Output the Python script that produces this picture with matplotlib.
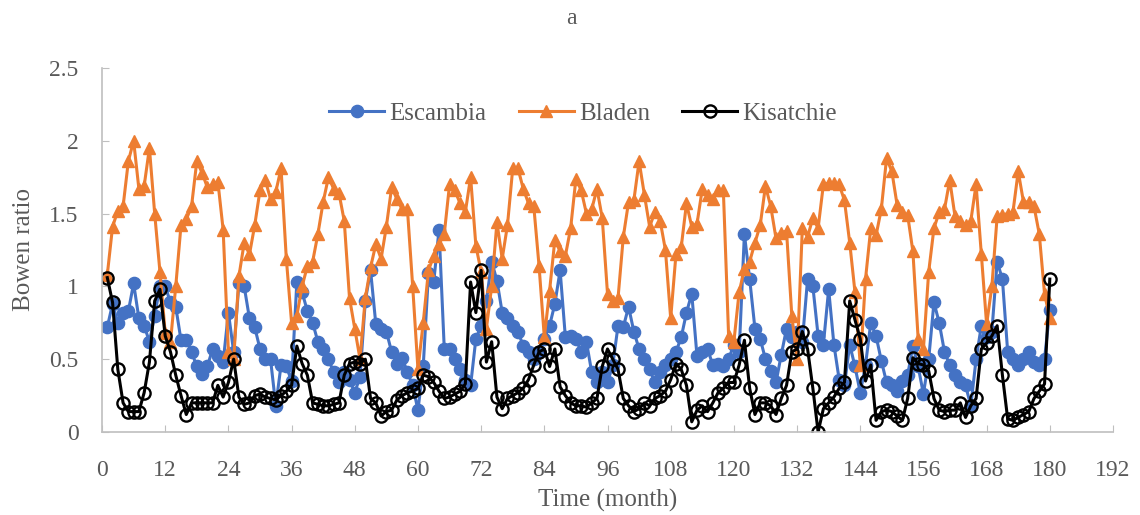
import numpy as np
import matplotlib
matplotlib.use("Agg")
import matplotlib.pyplot as plt

# monthly Bowen ratio, one row per year (months 1..180)
escambia = [
    0.72, 0.88, 0.75, 0.82, 0.83, 1.02, 0.78, 0.73, 0.62, 0.80, 1.00, 1.00,
    0.89, 0.86, 0.63, 0.63, 0.55, 0.45, 0.40, 0.45, 0.57, 0.52, 0.48, 0.82,
    0.55, 1.02, 1.00, 0.78, 0.72, 0.57, 0.50, 0.50, 0.18, 0.46, 0.45, 0.35,
    1.03, 0.96, 0.83, 0.75, 0.62, 0.57, 0.50, 0.41, 0.34, 0.41, 0.36, 0.27,
    0.38, 0.90, 1.11, 0.74, 0.71, 0.69, 0.55, 0.47, 0.51, 0.41, 0.32, 0.15,
    0.45, 1.09, 1.03, 1.39, 0.57, 0.57, 0.50, 0.43, 0.36, 0.32, 0.64, 0.73,
    0.90, 1.17, 1.04, 0.82, 0.78, 0.73, 0.69, 0.59, 0.55, 0.50, 0.55, 0.64,
    0.73, 0.88, 1.11, 0.65, 0.66, 0.64, 0.55, 0.62, 0.41, 0.34, 0.41, 0.34,
    0.46, 0.73, 0.72, 0.86, 0.69, 0.57, 0.50, 0.43, 0.34, 0.41, 0.46, 0.50,
    0.55, 0.65, 0.82, 0.95, 0.52, 0.55, 0.57, 0.46, 0.47, 0.45, 0.50, 0.60,
    0.55, 1.36, 1.05, 0.71, 0.64, 0.50, 0.42, 0.34, 0.53, 0.71, 0.65, 0.69,
    0.62, 1.05, 1.00, 0.66, 0.60, 0.98, 0.60, 0.36, 0.32, 0.60, 0.45, 0.27,
    0.46, 0.75, 0.66, 0.49, 0.34, 0.32, 0.28, 0.35, 0.39, 0.59, 0.45, 0.26,
    0.50, 0.89, 0.75, 0.55, 0.46, 0.39, 0.34, 0.32, 0.18, 0.50, 0.73, 0.65,
    0.69, 1.17, 1.05, 0.55, 0.50, 0.46, 0.50, 0.55, 0.48, 0.46, 0.50, 0.84,
]

bladen = [
    1.08, 1.41, 1.52, 1.55, 1.86, 2.00, 1.67, 1.69, 1.95, 1.50, 1.10, 0.68,
    0.62, 1.00, 1.42, 1.46, 1.55, 1.86, 1.78, 1.68, 1.70, 1.72, 1.39, 0.55,
    0.50, 1.07, 1.30, 1.22, 1.42, 1.66, 1.73, 1.60, 1.65, 1.81, 1.19, 0.75,
    0.80, 1.00, 1.14, 1.17, 1.36, 1.58, 1.75, 1.67, 1.64, 1.45, 0.92, 0.71,
    0.50, 0.92, 1.13, 1.29, 1.19, 1.41, 1.68, 1.60, 1.53, 1.53, 1.00, 0.43,
    0.75, 1.11, 1.21, 1.29, 1.36, 1.70, 1.66, 1.57, 1.51, 1.75, 1.28, 1.10,
    0.71, 1.00, 1.44, 1.19, 1.42, 1.81, 1.81, 1.67, 1.57, 1.55, 1.14, 0.65,
    0.97, 1.32, 1.24, 1.21, 1.40, 1.74, 1.66, 1.50, 1.53, 1.67, 1.47, 0.95,
    0.90, 0.92, 1.34, 1.58, 1.59, 1.86, 1.63, 1.41, 1.51, 1.45, 1.25, 0.78,
    1.22, 1.27, 1.57, 1.41, 1.43, 1.67, 1.63, 1.60, 1.66, 1.66, 0.66, 0.62,
    0.96, 1.12, 1.17, 1.30, 1.42, 1.69, 1.55, 1.33, 1.37, 1.38, 0.80, 0.50,
    1.40, 1.34, 1.47, 1.40, 1.70, 1.71, 1.71, 1.70, 1.59, 1.30, 0.96, 0.46,
    1.05, 1.40, 1.35, 1.53, 1.88, 1.79, 1.56, 1.51, 1.49, 1.24, 0.64, 0.57,
    1.10, 1.40, 1.51, 1.53, 1.73, 1.48, 1.45, 1.42, 1.45, 1.70, 1.22, 0.74,
    1.00, 1.48, 1.49, 1.50, 1.51, 1.79, 1.58, 1.58, 1.55, 1.36, 0.95, 0.78,
]

kisatchie = [
    1.06, 0.89, 0.43, 0.20, 0.14, 0.14, 0.14, 0.27, 0.48, 0.90, 0.98, 0.66,
    0.55, 0.39, 0.25, 0.12, 0.20, 0.20, 0.20, 0.20, 0.20, 0.32, 0.24, 0.34,
    0.50, 0.24, 0.19, 0.20, 0.25, 0.26, 0.24, 0.23, 0.22, 0.25, 0.28, 0.32,
    0.59, 0.47, 0.39, 0.20, 0.19, 0.18, 0.18, 0.19, 0.20, 0.39, 0.47, 0.48,
    0.47, 0.50, 0.23, 0.20, 0.11, 0.14, 0.15, 0.22, 0.25, 0.27, 0.28, 0.30,
    0.39, 0.38, 0.34, 0.28, 0.23, 0.24, 0.26, 0.28, 0.33, 1.03, 0.82, 1.11,
    0.48, 0.62, 0.24, 0.16, 0.23, 0.25, 0.27, 0.30, 0.36, 0.46, 0.55, 0.57,
    0.45, 0.57, 0.31, 0.25, 0.20, 0.18, 0.18, 0.17, 0.20, 0.23, 0.45, 0.57,
    0.50, 0.43, 0.23, 0.18, 0.14, 0.16, 0.20, 0.18, 0.23, 0.25, 0.28, 0.36,
    0.47, 0.43, 0.32, 0.07, 0.15, 0.18, 0.14, 0.20, 0.27, 0.30, 0.34, 0.34,
    0.46, 0.63, 0.30, 0.12, 0.20, 0.20, 0.18, 0.12, 0.23, 0.32, 0.55, 0.57,
    0.69, 0.57, 0.30, 0.00, 0.16, 0.20, 0.24, 0.30, 0.34, 0.90, 0.77, 0.64,
    0.35, 0.46, 0.08, 0.14, 0.15, 0.14, 0.11, 0.08, 0.23, 0.51, 0.47, 0.46,
    0.42, 0.23, 0.15, 0.14, 0.15, 0.15, 0.20, 0.10, 0.18, 0.23, 0.57, 0.61,
    0.66, 0.73, 0.39, 0.09, 0.08, 0.10, 0.12, 0.14, 0.23, 0.28, 0.33, 1.05,
]

months = np.arange(1, len(escambia) + 1)
x_ticks = list(range(0, 193, 12))
y_ticks = [0, 0.5, 1, 1.5, 2, 2.5]
y_tick_labels = ["0", "0.5", "1", "1.5", "2", "2.5"]

TEXT = "#595959"
AXIS = "#bfbfbf"
plt.rcParams["font.family"] = ["Liberation Serif", "DejaVu Serif"]

fig = plt.figure(figsize=(11.4, 5.15), dpi=100)
ax = fig.add_axes([0.0895, 0.1612, 0.8868, 0.7068])

ax.plot(months, escambia, color="#4472c4", lw=2.2, marker="o", ms=8.8,
        mfc="#4472c4", mec="#4472c4", label="Escambia")
ax.plot(months, bladen, color="#ed7d31", lw=2.2, marker="^", ms=9.2,
        mfc="#ed7d31", mec="#ed7d31", label="Bladen")
ax.plot(months, kisatchie, color="black", lw=2.2, marker="o", ms=8.8,
        mfc="none", mec="black", mew=1.7, label="Kisatchie")

ax.set_xlim(0, 192)
ax.set_ylim(0, 2.5)
ax.set_xticks(x_ticks)
ax.set_yticks(y_ticks)
ax.set_yticklabels(y_tick_labels)
ax.tick_params(direction="in", length=5, color=AXIS, labelcolor=TEXT,
               labelsize=17)
ax.tick_params(axis="x", pad=20)
ax.tick_params(axis="y", pad=17)
for side in ("top", "right"):
    ax.spines[side].set_visible(False)
for side in ("left", "bottom"):
    ax.spines[side].set_color(AXIS)
    ax.spines[side].set_linewidth(1.2)

ax.set_xlabel("Time (month)", fontsize=18, color=TEXT, labelpad=6)
ax.set_ylabel("Bowen ratio", fontsize=18, color=TEXT, labelpad=10)
fig.text(0.501, 0.965, "a", ha="center", va="center", fontsize=17, color=TEXT)

ax.legend(loc="center", bbox_to_anchor=(0.476, 0.874), ncol=3, frameon=False,
          fontsize=18, labelcolor=TEXT, handlelength=2.2, handletextpad=0.2,
          columnspacing=1.3)

fig.savefig("out.png", dpi=100)
